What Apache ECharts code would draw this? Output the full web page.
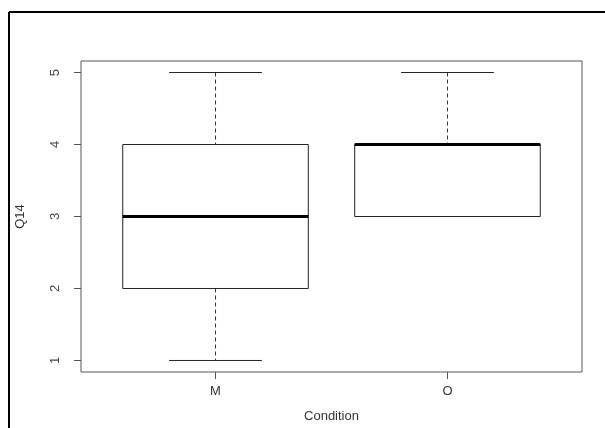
<!DOCTYPE html>
<html>
<head>
<meta charset="utf-8">
<script src="https://cdn.jsdelivr.net/npm/echarts@6/dist/echarts.min.js"></script>
<style>
html,body{margin:0;padding:0;background:#fff;}
#chart{width:605px;height:428px;}
</style>
</head>
<body>
<div id="chart"></div>
<script>
const categories = ['M', 'O'];
const minVals = [1, 3];
const q1Vals = [2, 3];
const medVals = [3, 4];
const q3Vals = [4, 4];
const maxVals = [5, 5];
const yTicks = [1, 2, 3, 4, 5];
const xTicks = [1, 2];
const yTitle = 'Q14';
const xTitle = 'Condition';

const FONT = '"Liberation Sans", Arial, sans-serif';
const data = categories.map((c, i) => [i + 1, minVals[i], q1Vals[i], medVals[i], q3Vals[i], maxVals[i]]);

const chart = echarts.init(document.getElementById('chart'), null, {renderer: 'canvas'});

function renderItem(params, api) {
  const x = api.value(0);
  const lo = api.value(1), q1 = api.value(2), med = api.value(3), q3 = api.value(4), hi = api.value(5);
  const bw = 0.4, sw = 0.2;
  const tl = api.coord([x - bw, q3]);
  const br = api.coord([x + bw, q1]);
  const mL = api.coord([x - bw, med]);
  const mR = api.coord([x + bw, med]);
  const c = api.coord([x, hi]);
  const cTop = api.coord([x, q3]);
  const cBot = api.coord([x, q1]);
  const cLo = api.coord([x, lo]);
  const capHiL = api.coord([x - sw, hi]);
  const capHiR = api.coord([x + sw, hi]);
  const capLoL = api.coord([x - sw, lo]);
  const capLoR = api.coord([x + sw, lo]);
  const dashStyle = {stroke: '#333', lineWidth: 1, lineDash: [4, 3]};
  const solid = {stroke: '#222', lineWidth: 1};
  return {
    type: 'group',
    children: [
      {type: 'line', shape: {x1: c[0], y1: c[1], x2: cTop[0], y2: cTop[1]}, style: dashStyle},
      {type: 'line', shape: {x1: cBot[0], y1: cBot[1], x2: cLo[0], y2: cLo[1]}, style: dashStyle},
      {type: 'line', shape: {x1: capHiL[0], y1: capHiL[1], x2: capHiR[0], y2: capHiR[1]}, style: solid},
      {type: 'line', shape: {x1: capLoL[0], y1: capLoL[1], x2: capLoR[0], y2: capLoR[1]}, style: solid},
      {type: 'rect', shape: {x: tl[0], y: tl[1], width: br[0] - tl[0], height: br[1] - tl[1]}, style: {fill: '#fff', stroke: '#222', lineWidth: 1}},
      {type: 'line', shape: {x1: mL[0], y1: mL[1], x2: mR[0], y2: mR[1]}, style: {stroke: '#000', lineWidth: 3}}
    ]
  };
}

const option = {
  backgroundColor: '#fff',
  animation: false,
  grid: {left: 81, top: 61, width: 501, height: 312, show: true, borderColor: '#555', borderWidth: 1, backgroundColor: 'transparent'},
  xAxis: {
    type: 'value', min: 0.42, max: 2.58,
    name: xTitle, nameLocation: 'middle', nameGap: 38,
    nameTextStyle: {fontFamily: FONT, fontSize: 13, color: '#333'},
    axisLine: {show: false},
    splitLine: {show: false},
    axisTick: {show: true, length: 7, customValues: xTicks, lineStyle: {color: '#555'}},
    axisLabel: {customValues: xTicks, margin: 13, fontFamily: FONT, fontSize: 13, color: '#333',
      formatter: v => categories[Math.round(v) - 1] || ''}
  },
  yAxis: {
    type: 'value', min: 0.84, max: 5.16,
    name: yTitle, nameLocation: 'middle', nameGap: 54, nameRotate: 90,
    nameTextStyle: {fontFamily: FONT, fontSize: 13, color: '#333'},
    axisLine: {show: false},
    splitLine: {show: false},
    axisTick: {show: true, length: 7, customValues: yTicks, lineStyle: {color: '#555'}},
    axisLabel: {customValues: yTicks, rotate: 90, margin: 19, fontFamily: FONT, fontSize: 13, color: '#444'}
  },
  series: [{
    type: 'custom',
    renderItem: renderItem,
    encode: {x: 0, y: [1, 2, 3, 4, 5]},
    data: data
  }],
  graphic: [
    {type: 'line', shape: {x1: 9, y1: 12, x2: 605, y2: 12}, style: {stroke: '#000', lineWidth: 2}},
    {type: 'line', shape: {x1: 9, y1: 12, x2: 9, y2: 428}, style: {stroke: '#000', lineWidth: 2}}
  ]
};
chart.setOption(option);
</script>
</body>
</html>
